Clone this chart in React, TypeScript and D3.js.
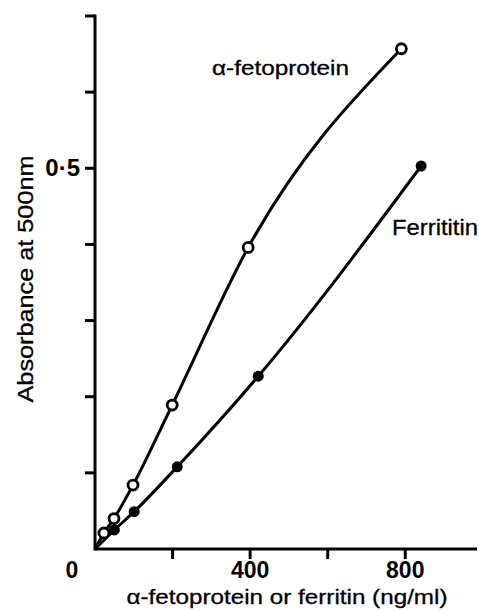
import React, { Component } from 'react';
import { select, scaleLinear, line, curveMonotoneX } from 'd3';

// α-fetoprotein (open circles)
const afpDose = [0, 23, 49, 98, 199, 395, 790];
const afpAbs = [0, 0.021, 0.040, 0.084, 0.189, 0.396, 0.657];
// ferritin (filled circles)
const ferDose = [0, 50, 101, 212, 421, 841];
const ferAbs = [0, 0.025, 0.049, 0.108, 0.227, 0.503];

const xTicks = [200, 400, 600, 800];
const xTickLabels = ['400', '800'];
const yTicks = [0.1, 0.2, 0.3, 0.4, 0.5, 0.6, 0.7];
const yTickLabel = '0·5';

export default class App extends Component {
    node: SVGSVGElement | null = null;

    componentDidMount() {
        this.draw();
    }

    draw() {
        const svg = select(this.node);
        svg.selectAll('*').remove();

        const x = scaleLinear().domain([0, 985]).range([95, 477]),
            y = scaleLinear().domain([0, 0.7]).range([549, 16]),
            font = '"Liberation Sans", Arial, sans-serif';

        const g = svg.append('g');

        // axes
        g.append('line')
            .attr('x1', x(0)).attr('x2', x(985))
            .attr('y1', y(0)).attr('y2', y(0))
            .attr('stroke', '#000').attr('stroke-width', 3);
        g.append('line')
            .attr('x1', x(0)).attr('x2', x(0))
            .attr('y1', y(0) + 1.5).attr('y2', y(0.7) - 1.5)
            .attr('stroke', '#000').attr('stroke-width', 3);

        g.selectAll('line.xt').data(xTicks).enter().append('line')
            .attr('class', 'xt')
            .attr('x1', d => x(d)).attr('x2', d => x(d))
            .attr('y1', y(0)).attr('y2', y(0) + 10)
            .attr('stroke', '#000').attr('stroke-width', 3);

        g.selectAll('line.yt').data(yTicks).enter().append('line')
            .attr('class', 'yt')
            .attr('x1', x(0) - 10).attr('x2', x(0))
            .attr('y1', d => y(d)).attr('y2', d => y(d))
            .attr('stroke', '#000').attr('stroke-width', 3);

        // tick labels
        g.selectAll('text.xl').data(xTickLabels).enter().append('text')
            .attr('class', 'xl')
            .attr('x', d => x(+d)).attr('y', 578)
            .attr('text-anchor', 'middle')
            .attr('font-family', font).attr('font-weight', 'bold').attr('font-size', 23)
            .text(d => d);
        g.append('text')
            .attr('x', x(0) - 23).attr('y', 578)
            .attr('text-anchor', 'middle')
            .attr('font-family', font).attr('font-weight', 'bold').attr('font-size', 23)
            .text('0');
        g.append('text')
            .attr('x', x(0) - 15).attr('y', y(0.5) + 8)
            .attr('text-anchor', 'end')
            .attr('font-family', font).attr('font-weight', 'bold').attr('font-size', 24)
            .text(yTickLabel);

        // axis titles
        g.append('text')
            .attr('x', 287).attr('y', 604)
            .attr('text-anchor', 'middle')
            .attr('font-family', font).attr('font-size', 21)
            .attr('stroke', '#000').attr('stroke-width', 0.3)
            .attr('textLength', 321).attr('lengthAdjust', 'spacingAndGlyphs')
            .text('α-fetoprotein or ferritin (ng/ml)');
        g.append('text')
            .attr('transform', 'translate(33,279) rotate(-90)')
            .attr('text-anchor', 'middle')
            .attr('font-family', font).attr('font-size', 22)
            .attr('stroke', '#000').attr('stroke-width', 0.3)
            .attr('textLength', 247).attr('lengthAdjust', 'spacingAndGlyphs')
            .text('Absorbance at 500nm');

        // curves
        const curve = line<[number, number]>()
            .x(d => x(d[0])).y(d => y(d[1]))
            .curve(curveMonotoneX);
        const afp = afpDose.map((d, i) => [d, afpAbs[i]] as [number, number]),
            fer = ferDose.map((d, i) => [d, ferAbs[i]] as [number, number]);

        g.append('path').attr('d', curve(afp))
            .attr('fill', 'none').attr('stroke', '#000').attr('stroke-width', 3);
        g.append('path').attr('d', curve(fer))
            .attr('fill', 'none').attr('stroke', '#000').attr('stroke-width', 3);

        g.selectAll('circle.afp').data(afp.slice(1)).enter().append('circle')
            .attr('class', 'afp')
            .attr('cx', d => x(d[0])).attr('cy', d => y(d[1]))
            .attr('r', 5)
            .attr('fill', '#fff').attr('stroke', '#000').attr('stroke-width', 2.8);
        g.selectAll('circle.fer').data(fer.slice(1)).enter().append('circle')
            .attr('class', 'fer')
            .attr('cx', d => x(d[0])).attr('cy', d => y(d[1]))
            .attr('r', 5.5)
            .attr('fill', '#000');

        // series labels
        g.append('text')
            .attr('x', 212).attr('y', 75)
            .attr('font-family', font).attr('font-size', 20)
            .attr('stroke', '#000').attr('stroke-width', 0.3)
            .attr('textLength', 137).attr('lengthAdjust', 'spacingAndGlyphs')
            .text('α-fetoprotein');
        g.append('text')
            .attr('x', 392).attr('y', 235)
            .attr('font-family', font).attr('font-size', 22)
            .attr('stroke', '#000').attr('stroke-width', 0.3)
            .attr('textLength', 86).attr('lengthAdjust', 'spacingAndGlyphs')
            .text('Ferrititin');
    }

    render() {
        return (
            <svg ref={node => { this.node = node; }} width={479} height={611}
                style={{ position: 'absolute', left: 0, top: 0, background: '#fff' }} />
        );
    }
}
